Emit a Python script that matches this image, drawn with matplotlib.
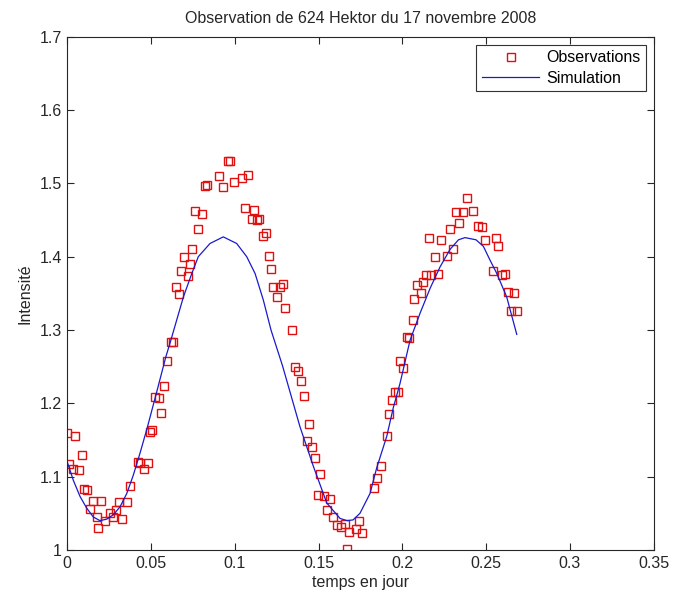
import matplotlib
matplotlib.use("Agg")
import matplotlib.pyplot as plt

plt.rcParams['font.family'] = ['Liberation Sans', 'DejaVu Sans']

# Observed lightcurve (time in days, relative intensity)
obs_t = [0.0000, 0.0012, 0.0032, 0.0048, 0.0072, 0.0086, 0.0101, 0.0119, 0.0136, 0.0155,
         0.0176, 0.0185, 0.0203, 0.0223, 0.0255, 0.0275, 0.0291, 0.0307, 0.0325, 0.0356,
         0.0376, 0.0420, 0.0436, 0.0458, 0.0480, 0.0494, 0.0507, 0.0525, 0.0546, 0.0561,
         0.0579, 0.0593, 0.0617, 0.0629, 0.0649, 0.0667, 0.0681, 0.0699, 0.0719, 0.0733,
         0.0746, 0.0764, 0.0782, 0.0802, 0.0824, 0.0832, 0.0907, 0.0928, 0.0961, 0.0971,
         0.0995, 0.1043, 0.1063, 0.1079, 0.1101, 0.1115, 0.1131, 0.1146, 0.1167, 0.1184,
         0.1202, 0.1216, 0.1230, 0.1254, 0.1270, 0.1290, 0.1301, 0.1343, 0.1358, 0.1376,
         0.1393, 0.1411, 0.1431, 0.1443, 0.1461, 0.1481, 0.1497, 0.1510, 0.1531, 0.1549,
         0.1568, 0.1588, 0.1608, 0.1634, 0.1658, 0.1672, 0.1684, 0.1722, 0.1741, 0.1759,
         0.1831, 0.1851, 0.1871, 0.1907, 0.1921, 0.1939, 0.1956, 0.1974, 0.1986, 0.2006,
         0.2026, 0.2042, 0.2062, 0.2072, 0.2086, 0.2110, 0.2125, 0.2140, 0.2161, 0.2173,
         0.2197, 0.2215, 0.2233, 0.2269, 0.2287, 0.2304, 0.2321, 0.2339, 0.2361, 0.2388,
         0.2424, 0.2454, 0.2476, 0.2492, 0.2540, 0.2559, 0.2574, 0.2597, 0.2615, 0.2628,
         0.2646, 0.2667, 0.2685]
obs_i = [1.159, 1.117, 1.110, 1.156, 1.109, 1.130, 1.083, 1.082, 1.056, 1.067,
         1.045, 1.030, 1.067, 1.040, 1.050, 1.045, 1.054, 1.065, 1.042, 1.065,
         1.087, 1.120, 1.118, 1.111, 1.118, 1.161, 1.163, 1.209, 1.207, 1.187,
         1.223, 1.258, 1.283, 1.283, 1.359, 1.349, 1.380, 1.399, 1.374, 1.390,
         1.410, 1.462, 1.438, 1.458, 1.496, 1.498, 1.510, 1.495, 1.530, 1.530,
         1.502, 1.507, 1.466, 1.511, 1.452, 1.463, 1.450, 1.451, 1.428, 1.432,
         1.401, 1.383, 1.359, 1.345, 1.359, 1.363, 1.330, 1.300, 1.249, 1.244,
         1.230, 1.210, 1.149, 1.172, 1.141, 1.126, 1.075, 1.104, 1.074, 1.055,
         1.070, 1.045, 1.034, 1.032, 1.036, 1.002, 1.025, 1.028, 1.039, 1.023,
         1.084, 1.098, 1.114, 1.156, 1.185, 1.204, 1.215, 1.215, 1.258, 1.248,
         1.290, 1.289, 1.314, 1.342, 1.362, 1.351, 1.366, 1.375, 1.426, 1.375,
         1.399, 1.377, 1.423, 1.401, 1.438, 1.410, 1.461, 1.446, 1.461, 1.480,
         1.462, 1.442, 1.440, 1.423, 1.381, 1.426, 1.414, 1.375, 1.377, 1.352,
         1.326, 1.351, 1.326]

# Simulated lightcurve
sim_t = [0.0000, 0.0036, 0.0076, 0.0116, 0.0155, 0.0195, 0.0235, 0.0275, 0.0315, 0.0355,
         0.0394, 0.0434, 0.0474, 0.0524, 0.0589, 0.0613, 0.0693, 0.0743, 0.0782, 0.0852,
         0.0931, 0.1011, 0.1071, 0.1121, 0.1170, 0.1216, 0.1285, 0.1389, 0.1469, 0.1549,
         0.1628, 0.1670, 0.1706, 0.1747, 0.1807, 0.1847, 0.1907, 0.1946, 0.1986, 0.2046,
         0.2106, 0.2166, 0.2225, 0.2285, 0.2335, 0.2374, 0.2440, 0.2484, 0.2524, 0.2564,
         0.2623, 0.2683]
sim_i = [1.120, 1.095, 1.073, 1.057, 1.045, 1.040, 1.042, 1.048, 1.059, 1.077,
         1.102, 1.132, 1.164, 1.207, 1.264, 1.282, 1.345, 1.377, 1.400, 1.418,
         1.427, 1.418, 1.400, 1.377, 1.341, 1.300, 1.251, 1.168, 1.114, 1.064,
         1.043, 1.040, 1.041, 1.050, 1.077, 1.112, 1.155, 1.194, 1.227, 1.286,
         1.323, 1.357, 1.386, 1.410, 1.423, 1.426, 1.423, 1.414, 1.395, 1.377,
         1.345, 1.294]

x_ticks = [0, 0.05, 0.1, 0.15, 0.2, 0.25, 0.3, 0.35]
x_tick_labels = ['0', '0.05', '0.1', '0.15', '0.2', '0.25', '0.3', '0.35']
y_ticks = [1, 1.1, 1.2, 1.3, 1.4, 1.5, 1.6, 1.7]
y_tick_labels = ['1', '1.1', '1.2', '1.3', '1.4', '1.5', '1.6', '1.7']

FS = 11.5
INK = '#262626'

fig = plt.figure(figsize=(6.86, 5.92), dpi=100)
ax = fig.add_axes([0.0981, 0.071, 0.8547, 0.867])

ax.plot(obs_t, obs_i, linestyle='none', marker='s', markersize=6,
        markerfacecolor='none', markeredgecolor='#e01010', markeredgewidth=1.0,
        label='Observations')
ax.plot(sim_t, sim_i, color='#1a1acc', linewidth=0.9, label='Simulation')

ax.set_xlim(0, 0.35)
ax.set_ylim(1, 1.7)
ax.set_xticks(x_ticks)
ax.set_xticklabels(x_tick_labels)
ax.set_yticks(y_ticks)
ax.set_yticklabels(y_tick_labels)
ax.tick_params(direction='in', length=5, width=0.8, top=True, right=True,
               labelsize=FS, colors=INK, pad=4)
for s in ax.spines.values():
    s.set_linewidth(0.8)
    s.set_color(INK)

ax.set_title('Observation de 624 Hektor du 17 novembre 2008', fontsize=FS,
             color=INK, pad=10)
ax.set_xlabel('temps en jour', fontsize=FS, color=INK, labelpad=3)
ax.set_ylabel('Intensité', fontsize=FS, color=INK, labelpad=5)

leg = ax.legend(loc='upper right', fontsize=FS, frameon=True, fancybox=False,
                edgecolor='#333333', framealpha=1, handlelength=3.6,
                borderaxespad=0.5, borderpad=0.35, labelspacing=0.35,
                handletextpad=0.4)
leg.get_frame().set_linewidth(0.8)

fig.savefig('out.png', dpi=100)
